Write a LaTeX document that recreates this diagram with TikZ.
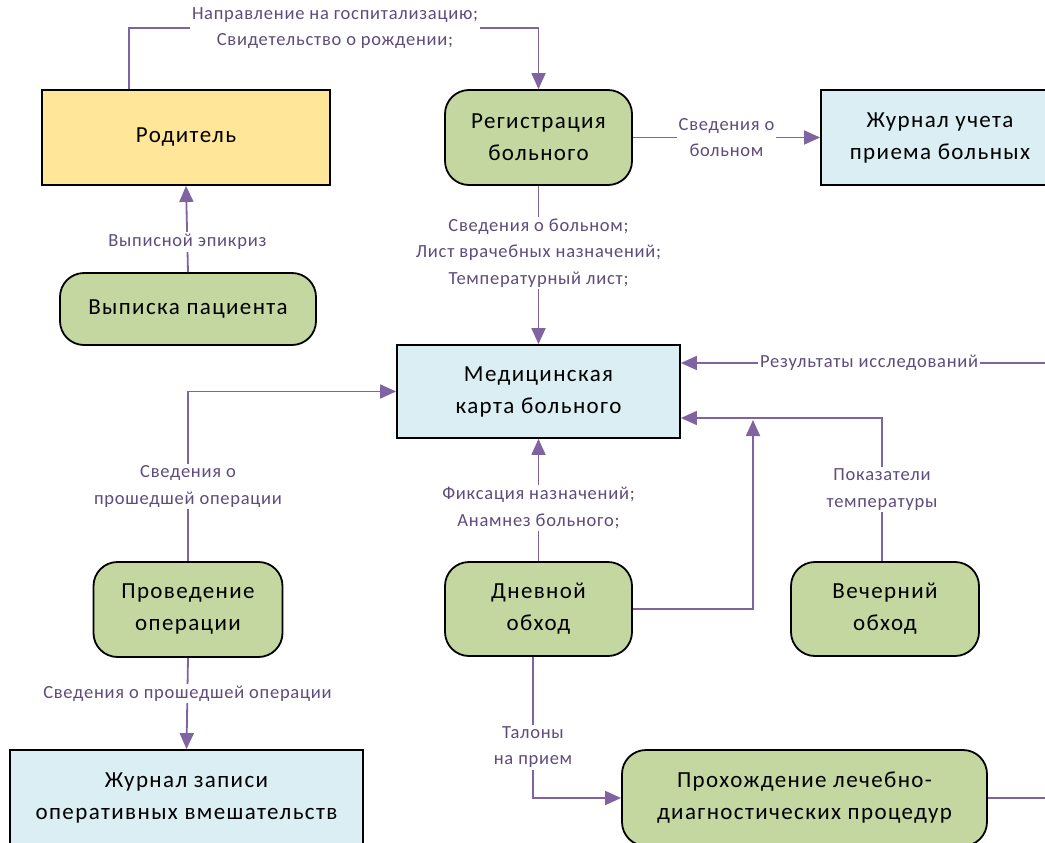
\documentclass[tikz,border=0pt]{standalone}
\usepackage{fontspec}
\setmainfont{Carlito}
\newfontfamily\nodefont{Carlito}[LetterSpace=6]
\newfontfamily\labfont{Carlito}[LetterSpace=4]
\usetikzlibrary{arrows.meta}
\definecolor{lineC}{RGB}{128,100,162}
\definecolor{labC}{RGB}{94,76,124}
\definecolor{yel}{RGB}{255,230,153}
\definecolor{grn}{RGB}{196,215,160}
\definecolor{blu}{RGB}{218,238,243}
\begin{document}
\begin{tikzpicture}[x=1pt,y=-1pt,
 box/.style={draw=black,line width=1.8pt,align=center,font=\nodefont\fontsize{23}{32}\selectfont,inner sep=0pt},
 proc/.style={box,fill=grn,rounded corners=24pt},
 ent/.style={box,fill=yel},
 store/.style={box,fill=blu},
 flow/.style={draw=lineC,line width=1.8pt,-{Triangle[length=16pt,width=14pt]}},
 plainline/.style={draw=lineC,line width=1.8pt},
 lab/.style={fill=white,text=labC,align=center,font=\labfont\fontsize{18.5}{26.5}\selectfont,inner sep=2pt}]
\clip (0,0) rectangle (1045,843);
\fill[white] (0,0) rectangle (1045,843);
% nodes
\node[ent,minimum width=288pt,minimum height=95pt] (par) at (186,137.5) {Родитель};
\node[proc,minimum width=187pt,minimum height=95pt] (reg) at (538.5,137.5) {Регистрация\\больного};
\node[store,minimum width=238pt,minimum height=95pt] (ju) at (940,137.5) {Журнал учета\\приема больных};
\node[proc,minimum width=256pt,minimum height=72pt] (vyp) at (188,309) {Выписка пациента};
\node[store,minimum width=283pt,minimum height=93pt] (med) at (538.5,391.5) {Медицинская\\карта больного};
\node[proc,minimum width=189pt,minimum height=95pt] (prov) at (188,609.5) {Проведение\\операции};
\node[proc,minimum width=187pt,minimum height=94pt] (dn) at (538.5,609) {Дневной\\обход};
\node[proc,minimum width=188pt,minimum height=94pt] (vech) at (885,609) {Вечерний\\обход};
\node[store,minimum width=353pt,minimum height=96pt] (zz) at (186.5,798) {Журнал записи\\оперативных вмешательств};
\node[proc,minimum width=365pt,minimum height=96pt] (proh) at (804.5,798) {Прохождение лечебно-\\диагностических процедур};
% helper coordinates
\coordinate (t1) at (335,28);
\coordinate (rR) at (1050,363);
\coordinate (j1) at (753,420);
\coordinate (pR) at (1050,798);
% connectors
\draw[flow] ([xshift=88pt]par.north west) |- (t1) -| (reg.north);
\node[lab] (l1) at (t1) {Направление на госпитализацию;\\Свидетельство о рождении;};
\draw[flow] (reg.east) -- (ju.west) node[lab,midway] (l2) {Сведения о\\больном};
\draw[flow] (reg.south) -- (med.north) node[lab,pos=0.425] (l3) {Сведения о больном;\\Лист врачебных назначений;\\Температурный лист;};
\draw[flow] (vyp.north) -- (par.south) node[lab,pos=0.35] (l4) {Выписной эпикриз};
\draw[flow] (rR) -- (med.east |- rR) node[lab,pos=0.49] (l5) {Результаты исследований};
\draw[flow] ([xshift=-3pt]vech.north) |- ([yshift=-26.5pt]med.east) node[lab,pos=0.25] (l6) {Показатели\\температуры};
\draw[flow] (dn.east) -| (j1);
\draw[flow] (dn.north) -- (med.south) node[lab,pos=0.435] (l8) {Фиксация назначений;\\Анамнез больного;};
\draw[flow] (prov.north) |- (med.west) node[lab,pos=0.22] (l9) {Сведения о\\прошедшей операции};
\draw[flow] (prov.south) -- (zz.north) node[lab,pos=0.39] (l10) {Сведения о прошедшей операции};
\draw[flow] ([xshift=-5.5pt]dn.south) |- (proh.west) node[lab,pos=0.32] (l11) {Талоны\\на прием};
\draw[plainline] (proh.east) -- (pR);
\end{tikzpicture}
\end{document}
